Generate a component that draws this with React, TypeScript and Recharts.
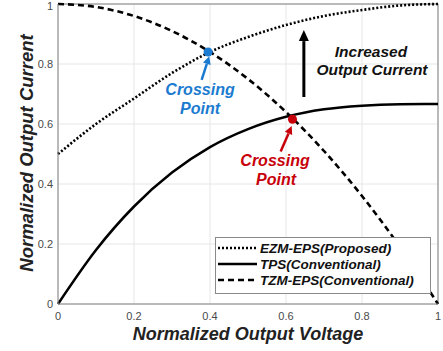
import React from "react";
import {
  LineChart,
  Line,
  XAxis,
  YAxis,
  CartesianGrid,
  ReferenceLine,
  ReferenceDot,
} from "recharts";

// normalized output voltage
const voltage = [0, 0.1, 0.2, 0.3, 0.4, 0.5, 0.6, 0.7, 0.8, 0.9, 1];
// normalized output current per modulation scheme
const ezmEps = [0.5, 0.6, 0.685, 0.77, 0.84, 0.89, 0.93, 0.96, 0.98, 0.995, 1];
const tps = [0, 0.18, 0.325, 0.438, 0.523, 0.583, 0.624, 0.649, 0.661, 0.666, 0.667];
const tzmEps = [1, 0.99, 0.96, 0.91, 0.84, 0.75, 0.64, 0.51, 0.36, 0.19, 0];

const axisTicks = [0, 0.2, 0.4, 0.6, 0.8, 1];

// crossing points
const crossBlue = { x: 0.395, y: 0.84 };
const crossRed = { x: 0.617, y: 0.616 };

// annotation arrows: [tail, tip]
const blueArrow = [{ x: 0.378, y: 0.747 }, { x: 0.398, y: 0.826 }];
const redArrow = [{ x: 0.586, y: 0.508 }, { x: 0.615, y: 0.593 }];
const upArrow = [{ x: 0.647, y: 0.69 }, { x: 0.647, y: 0.913 }];

const data = voltage.map((v, i) => ({
  v,
  ezm: ezmEps[i],
  tps: tps[i],
  tzm: tzmEps[i],
}));

const FONT = "Arial, 'Liberation Sans', sans-serif";
const BLUE = "#1b7bd0";
const RED = "#c8000a";

const arrowShape = (color: string, width: number, head: number, headW: number) =>
  (props: any) => {
    const { x1, y1, x2, y2 } = props;
    const dx = x2 - x1;
    const dy = y2 - y1;
    const len = Math.sqrt(dx * dx + dy * dy) || 1;
    const ux = dx / len;
    const uy = dy / len;
    const bx = x2 - ux * head;
    const by = y2 - uy * head;
    const px = -uy * headW;
    const py = ux * headW;
    return (
      <g>
        <line x1={x1} y1={y1} x2={bx} y2={by} stroke={color} strokeWidth={width} />
        <polygon
          points={`${x2},${y2} ${bx + px},${by + py} ${bx - px},${by - py}`}
          fill={color}
        />
      </g>
    );
  };

const YLabel = () => (
  <text
    transform="translate(33,153) rotate(-90)"
    textAnchor="middle"
    fontFamily={FONT}
    fontWeight="bold"
    fontStyle="italic"
    fontSize={18.5}
    fill="#222"
  >
    Normalized Output Current
  </text>
);

const legendRows = [
  { name: "EZM-EPS(Proposed)", dash: "2 2", y: 248 },
  { name: "TPS(Conventional)", dash: undefined, y: 264 },
  { name: "TZM-EPS(Conventional)", dash: "6 4", y: 280 },
];

const Overlay = () => (
  <svg
    width={443}
    height={351}
    style={{ position: "absolute", left: 0, top: 0, pointerEvents: "none" }}
  >
    <g fontFamily={FONT} fontWeight="bold" fontStyle="italic">
      <text x={200} y={95} textAnchor="middle" fontSize={16} fill={BLUE}>
        Crossing
      </text>
      <text x={200} y={114} textAnchor="middle" fontSize={16} fill={BLUE}>
        Point
      </text>
      <text x={275} y={166} textAnchor="middle" fontSize={16} fill={RED}>
        Crossing
      </text>
      <text x={276} y={185} textAnchor="middle" fontSize={16} fill={RED}>
        Point
      </text>
      <text x={371} y={57} textAnchor="middle" fontSize={15.5} fill="#111">
        Increased
      </text>
      <text x={372} y={75} textAnchor="middle" fontSize={15.5} fill="#111">
        Output Current
      </text>
    </g>
    <rect x={215.5} y={237.5} width={215} height={56} fill="#fff" stroke="#8a8a8a" />
    {legendRows.map((r) => (
      <g key={r.name}>
        <line
          x1={218}
          y1={r.y}
          x2={257}
          y2={r.y}
          stroke="#000"
          strokeWidth={2.5}
          strokeDasharray={r.dash}
        />
        <text
          x={260}
          y={r.y + 5}
          fontFamily={FONT}
          fontWeight="bold"
          fontStyle="italic"
          fontSize={13.5}
          fill="#111"
        >
          {r.name}
        </text>
      </g>
    ))}
  </svg>
);

export default function App() {
  return (
    <div style={{ position: "absolute", left: 0, top: 0, width: 443, height: 351, background: "#fff" }}>
      <LineChart
        width={443}
        height={351}
        data={data}
        margin={{ top: 4, right: 5, bottom: 0, left: 0 }}
      >
        <CartesianGrid stroke="#e6e6e6" strokeWidth={1} />
        <XAxis
          dataKey="v"
          type="number"
          domain={[0, 1]}
          ticks={axisTicks}
          height={47}
          stroke="#808080"
          tickLine={false}
          tick={{ fill: "#4a4a4a", fontSize: 11, fontFamily: FONT }}
          label={{
            value: "Normalized Output Voltage",
            position: "insideBottom",
            offset: 11.5,
            style: {
              fontFamily: FONT,
              fontWeight: "bold",
              fontStyle: "italic",
              fontSize: 18,
              fill: "#222",
            },
          }}
        />
        <YAxis
          type="number"
          domain={[0, 1]}
          ticks={axisTicks}
          width={58}
          stroke="#808080"
          tickLine={false}
          tickSize={5}
          tickMargin={0}
          tick={{ fill: "#4a4a4a", fontSize: 11, fontFamily: FONT }}
          label={<YLabel />}
        />
        <ReferenceLine y={1} stroke="#808080" />
        <ReferenceLine x={1} stroke="#808080" />
        <Line
          type="monotone"
          dataKey="ezm"
          stroke="#000"
          strokeWidth={2.6}
          strokeDasharray="2 2"
          dot={false}
          isAnimationActive={false}
        />
        <Line
          type="monotone"
          dataKey="tps"
          stroke="#000"
          strokeWidth={2.5}
          dot={false}
          isAnimationActive={false}
        />
        <Line
          type="monotone"
          dataKey="tzm"
          stroke="#000"
          strokeWidth={2.6}
          strokeDasharray="6 4"
          dot={false}
          isAnimationActive={false}
        />
        <ReferenceLine
          segment={blueArrow}
          shape={arrowShape(BLUE, 2.5, 8, 4)}
        />
        <ReferenceLine
          segment={redArrow}
          shape={arrowShape(RED, 2.5, 8, 4)}
        />
        <ReferenceLine
          segment={upArrow}
          shape={arrowShape("#000", 3, 11, 5)}
        />
        <ReferenceDot x={crossBlue.x} y={crossBlue.y} r={4.5} fill={BLUE} stroke="none" />
        <ReferenceDot x={crossRed.x} y={crossRed.y} r={4.5} fill={RED} stroke="none" />
      </LineChart>
      <Overlay />
    </div>
  );
}
